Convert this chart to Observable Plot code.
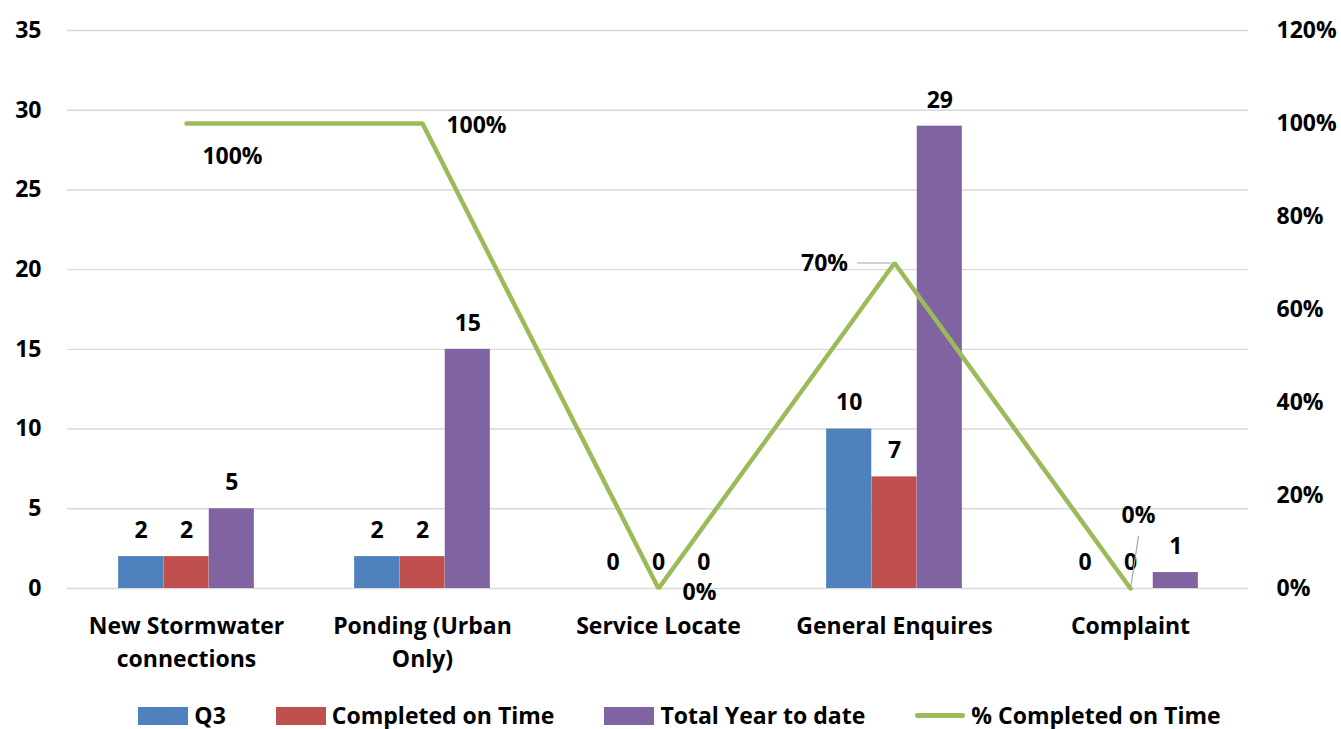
<!DOCTYPE html>
<html>
<head>
<meta charset="utf-8">
<script src="https://cdn.jsdelivr.net/npm/d3@7"></script>
<script src="https://cdn.jsdelivr.net/npm/@observablehq/plot@0.6"></script>
<style>
  body { margin: 0; background: #fff; font-family: "Open Sans", Lato, sans-serif; overflow: hidden; }
  #chart svg { display: block; }
  #legend {
    display: flex; justify-content: center; align-items: center;
    height: 27px; padding: 18px 0 0 18px;
    font-family: "Open Sans", sans-serif; font-weight: 700; font-size: 23px; line-height: 27px; color: #000;
  }
  .item { display: flex; align-items: center; margin: 0 25px; white-space: nowrap; }
  .sw { width: 50px; height: 18px; margin-right: 6px; flex: none; }
  .ln { width: 50px; height: 5px; border-radius: 3px; margin-right: 6px; flex: none; }
</style>
</head>
<body>
<div id="chart"></div>
<div id="legend"></div>
<script>
// Requests handled per category
const categories = ["New Stormwater\nconnections", "Ponding (Urban\nOnly)", "Service Locate", "General Enquires", "Complaint"];
const q3 = [2, 2, 0, 10, 0];
const completedOnTime = [2, 2, 0, 7, 0];
const totalYearToDate = [5, 15, 0, 29, 1];
const pctCompleted = [1.0, 1.0, 0.0, 0.7, 0.0];

const seriesNames = ["Q3", "Completed on Time", "Total Year to date", "% Completed on Time"];
const seriesColors = ["#4F81BD", "#C0504D", "#8064A2", "#9BBB59"];

const leftTicks = [0, 5, 10, 15, 20, 25, 30, 35];
const rightTicks = [0, 0.2, 0.4, 0.6, 0.8, 1.0, 1.2];

// left axis spans 0–35, right axis spans 0–120%
const yMax = 35;
const pctMax = 1.2;
const toLeft = p => p * yMax / pctMax;

const rows = categories.map((c, i) => ({
  cat: c, q3: q3[i], done: completedOnTime[i], total: totalYearToDate[i], pct: pctCompleted[i]
}));

const W = 1341, H = 684;
const mL = 67, mR = 93, mT = 30, mB = 96;
const step = (W - mL - mR) / categories.length;
const barW = 45.3;
const inset = (step - barW) / 2;
const font = { fontSize: 23, fontWeight: 700, fill: "#000" };

const barSeries = [
  { key: "q3", color: seriesColors[0], dx: -barW },
  { key: "done", color: seriesColors[1], dx: 0 },
  { key: "total", color: seriesColors[2], dx: barW }
];

// leader line shape for data labels
const leader = { draw(ctx, l) { ctx.moveTo(0, 0); ctx.lineTo(0, -l); } };

const pctLabel = (name, opts) => Plot.text(rows, {
  filter: d => d.cat === name, x: "cat", y: d => toLeft(d.pct),
  text: d => Math.round(d.pct * 100) + "%", ...font, ...opts
});

const chart = Plot.plot({
  width: W, height: H,
  marginLeft: mL, marginRight: mR, marginTop: mT, marginBottom: mB,
  style: { fontFamily: "'Open Sans', sans-serif", background: "#fff" },
  x: { domain: categories, padding: 0 },
  y: { domain: [0, yMax] },
  marks: [
    Plot.ruleY(leftTicks, { stroke: "#D9D9D9", strokeWidth: 1.4 }),
    ...barSeries.map(s => Plot.barY(rows, {
      x: "cat", y: s.key, fill: s.color, dx: s.dx, insetLeft: inset, insetRight: inset
    })),
    ...barSeries.map(s => Plot.text(rows, {
      x: "cat", y: s.key, text: d => String(d[s.key]), dx: s.dx, dy: -26, ...font
    })),
    Plot.line(rows, {
      x: "cat", y: d => toLeft(d.pct), stroke: seriesColors[3], strokeWidth: 4.5,
      strokeLinecap: "round", strokeLinejoin: "miter"
    }),
    Plot.vector(rows, {
      filter: d => d.cat === "General Enquires", x: "cat", y: d => toLeft(d.pct),
      length: 33, rotate: -90, anchor: "start", shape: leader, dx: -4,
      stroke: "#A6A6A6", strokeWidth: 1.2
    }),
    Plot.vector(rows, {
      filter: d => d.cat === "Complaint", x: "cat", y: d => toLeft(d.pct),
      length: 53, rotate: 8.7, anchor: "start", shape: leader,
      stroke: "#A6A6A6", strokeWidth: 1.2
    }),
    pctLabel(categories[0], { dx: 46, dy: 33 }),
    pctLabel(categories[1], { dx: 54, dy: 2 }),
    pctLabel(categories[2], { dx: 41, dy: 4 }),
    pctLabel(categories[3], { dx: -70, dy: 1 }),
    pctLabel(categories[4], { dx: 8, dy: -73 }),
    Plot.axisY({
      anchor: "left", ticks: leftTicks, tickSize: 0, tickPadding: 26, label: null, ...font
    }),
    Plot.axisY({
      anchor: "right", ticks: rightTicks.map(toLeft), tickSize: 0, tickPadding: 28, label: null,
      tickFormat: v => Math.round(v * pctMax / yMax * 100) + "%", ...font
    }),
    Plot.axisX({
      tickSize: 0, tickPadding: 22, label: null, lineHeight: 1.43, ...font
    })
  ]
});
document.getElementById("chart").append(chart);

// legend
const legend = document.getElementById("legend");
seriesNames.forEach((name, i) => {
  const item = document.createElement("div");
  item.className = "item";
  const sw = document.createElement("span");
  sw.className = i < 3 ? "sw" : "ln";
  sw.style.background = seriesColors[i];
  const label = document.createElement("span");
  label.textContent = name;
  item.append(sw, label);
  legend.append(item);
});
</script>
</body>
</html>
